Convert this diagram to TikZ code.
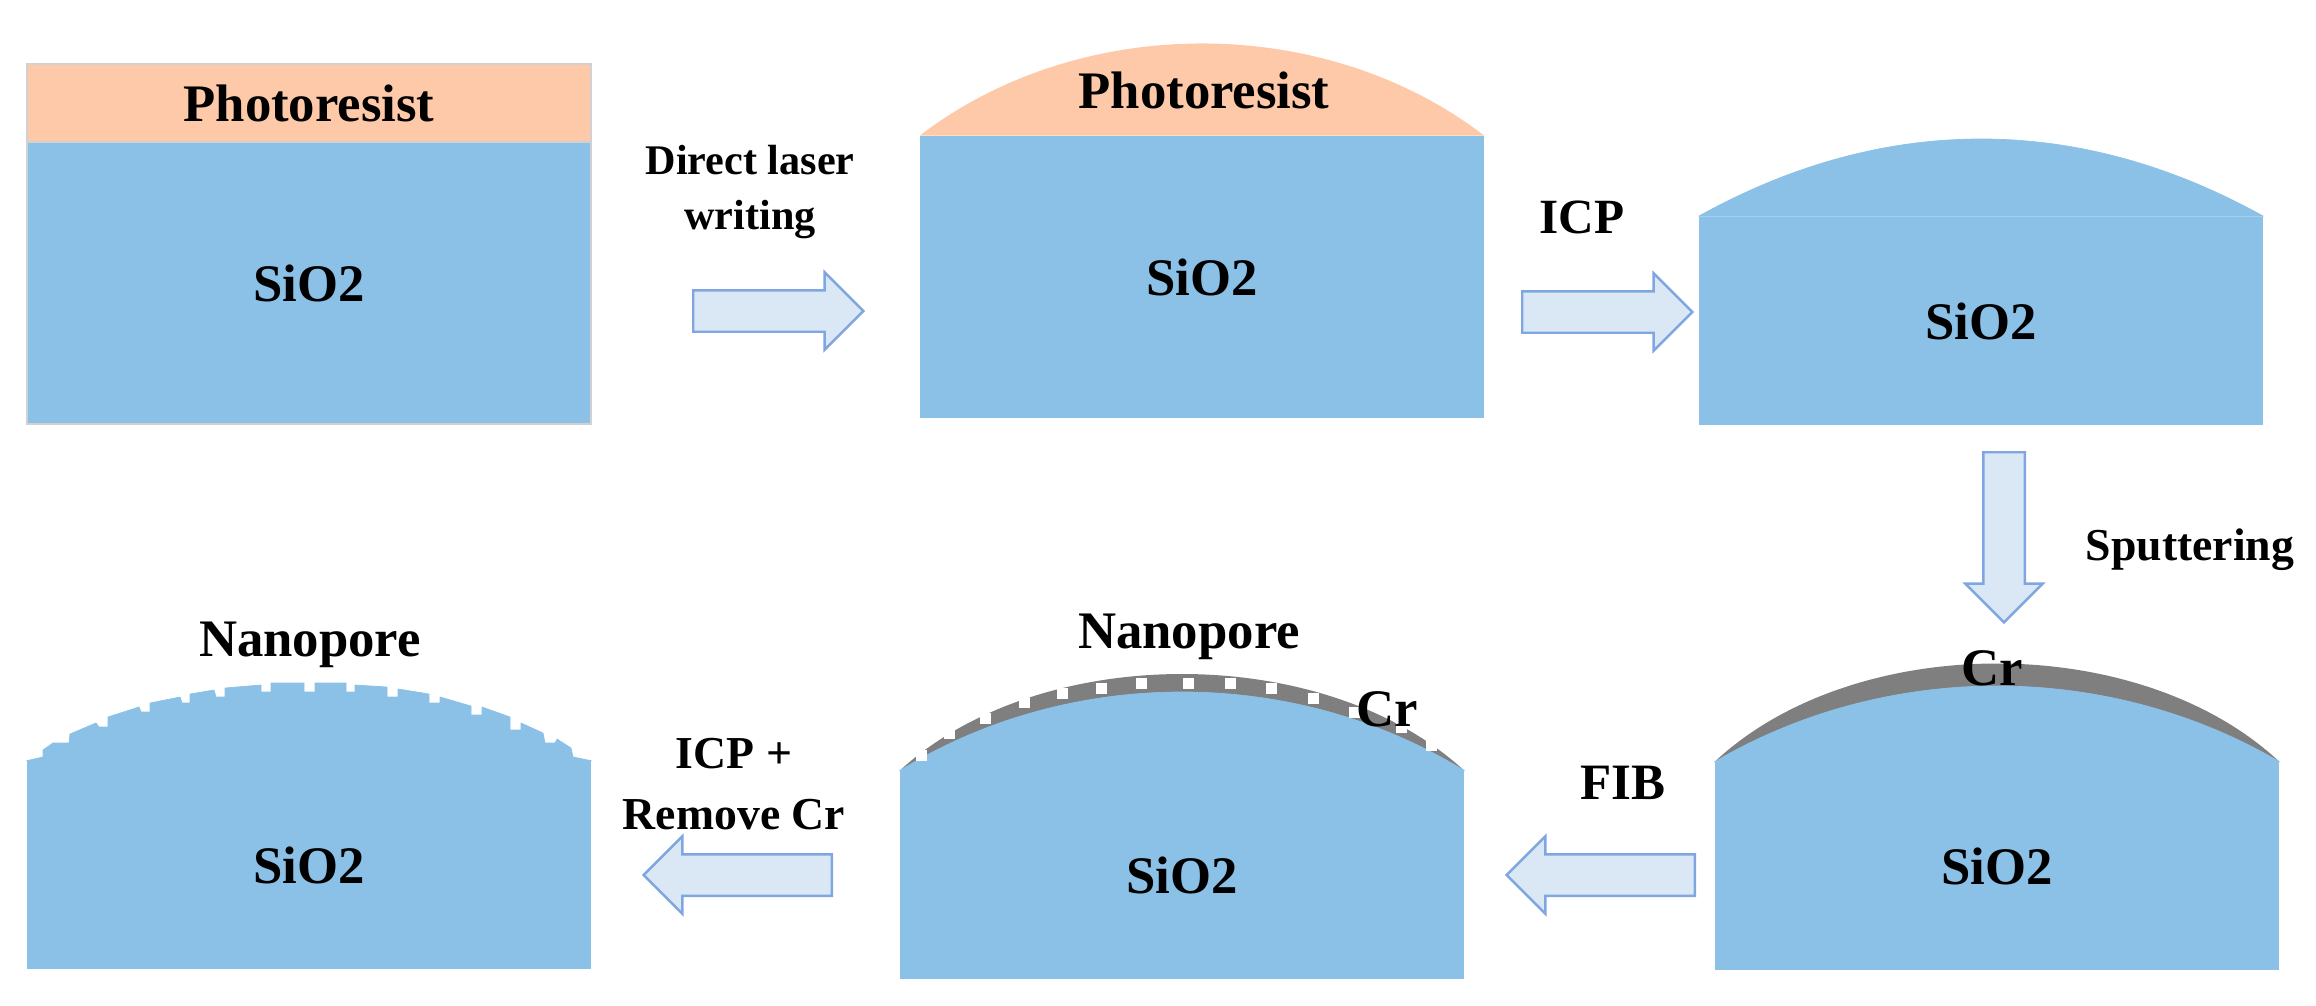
\documentclass[tikz,border=0pt]{standalone}
\usepackage{fontspec}
\setmainfont{Liberation Serif}
\usetikzlibrary{shapes.arrows}
\definecolor{siblue}{HTML}{8BC1E7}
\definecolor{resist}{HTML}{FDC9A8}
\definecolor{crgray}{HTML}{7F7F7F}
\definecolor{arrowfill}{HTML}{DAE8F6}
\definecolor{arrowline}{HTML}{7FA6E0}
\tikzset{
  body/.style={rectangle,fill=siblue,inner sep=0pt,font=\fontsize{15}{18}\selectfont\bfseries,minimum width=5.63cm},
  bluedome/.style={fill=siblue,draw=siblue,line width=0.2pt,line join=round},
  layertext/.style={inner sep=0pt,font=\fontsize{15}{18}\selectfont\bfseries},
  steptext/.style={inner sep=0pt,align=center,font=\fontsize{13}{17.5}\selectfont\bfseries},
  flow/.style={single arrow,anchor=tail,draw=arrowline,fill=arrowfill,line width=0.7pt,inner xsep=0pt,inner ysep=0.195cm,minimum width=0.75cm,single arrow head extend=0.18cm,minimum height=1.7cm}
}
\begin{document}
\begin{tikzpicture}[x=0.01cm,y=-0.01cm]
\useasboundingbox (0,0) rectangle (2316,1005);

\node (s1) at (309,283)[body,draw=black!18,line width=0.5pt,minimum height=2.82cm]{SiO2};
\node (r1) at (309,103)[rectangle,fill=resist,draw=black!18,line width=0.5pt,inner sep=0pt,minimum width=5.63cm,minimum height=0.78cm,layertext]{Photoresist};

\node (s2) at (1202,277)[body,minimum height=2.81cm]{SiO2};
\fill[resist] (s2.north west) .. controls +(160,-123) and +(-160,-123) .. (s2.north east) -- cycle;
\node (r2) at (1204,90)[layertext]{Photoresist};

\node (s3) at (1981,321)[body,minimum height=2.08cm]{SiO2};
\path[bluedome] (s3.north west) .. controls +(185,-103) and +(-185,-103) .. (s3.north east) -- cycle;

\node (s4) at (1997,866)[body,minimum height=2.07cm]{SiO2};
\fill[crgray] (s4.north west) .. controls +(140,-131) and +(-140,-131) .. (s4.north east) -- cycle;
\path[bluedome] (s4.north west) .. controls +(172,-101) and +(-172,-101) .. (s4.north east) -- cycle;
\node (c4) at (1992,668)[layertext]{Cr};

\node (s5) at (1182,875)[body,minimum height=2.07cm]{SiO2};
\fill[crgray] (s5.north west) .. controls +(140,-129) and +(-140,-129) .. (s5.north east) -- cycle;
\path[bluedome] (s5.north west) .. controls +(170,-105) and +(-170,-105) .. (s5.north east) -- cycle;
\foreach \x/\y in {921/755,949/733,985/718,1024/702,1062/693,1101/688,1141/683,1188/683,1230/683,1271/688,1313/698,1354/712,1401/727,1431/745}
  \fill[white] (\x-5.5,\y-5.5) rectangle (\x+5.5,\y+5.5);
\node (c5) at (1387,709)[layertext]{Cr};
\node (n5) at (1189,637)[layertext]{Nanopore};

\node (s6) at (309,865)[body,minimum height=2.07cm]{SiO2};
\path[bluedome] (s6.north west) -- (43,757) -- (43,750) -- (53,743) -- (69,743) -- (70,734) -- (96,723) -- (99,727) -- (108,727)
  -- (108,717) -- (139,707) -- (141,712) -- (150,712) -- (150,703) -- (180,697) -- (182,703) -- (190,703)
  -- (190,694) -- (214,690) -- (216,697) -- (225,697) -- (225,688) -- (261,685) -- (261,692) -- (271,692)
  -- (271,683) -- (304,683) -- (304,692) -- (315,692) -- (315,683) -- (346,683) -- (346,692) -- (355,692)
  -- (355,685) -- (387,687) -- (387,697) -- (398,697) -- (398,689) -- (429,694) -- (429,703) -- (440,703)
  -- (440,697) -- (471,706) -- (471,715) -- (482,715) -- (482,707) -- (510,717) -- (510,730) -- (521,730)
  -- (521,723) -- (543,733) -- (545,743) -- (555,743) -- (557,739) -- (571,748) -- (573,757) -- (s6.north east) -- cycle;
\node (n6) at (310,645)[layertext]{Nanopore};

\node (a1) at (692,311)[flow]{};
\node (a2) at (1521,312)[flow]{};
\node (a3) at (2004,451)[flow,rotate=-90]{};
\node (a4) at (1696,875)[flow,shape border rotate=180,minimum height=1.88cm]{};
\node (a5) at (833,875)[flow,shape border rotate=180,minimum height=1.88cm]{};

\node (t1) at (750,192)[steptext,font=\fontsize{12}{15.5}\selectfont\bfseries]{Direct laser\\writing};
\node (t2) at (1582,217)[steptext,font=\fontsize{14}{17}\selectfont\bfseries]{ICP};
\node (t3) at (2190,550)[steptext]{Sputtering};
\node (t4) at (1623,783)[steptext,font=\fontsize{14.5}{18}\selectfont\bfseries]{FIB};
\node (t5) at (734,784)[steptext]{ICP +\\Remove Cr};
\end{tikzpicture}
\end{document}
